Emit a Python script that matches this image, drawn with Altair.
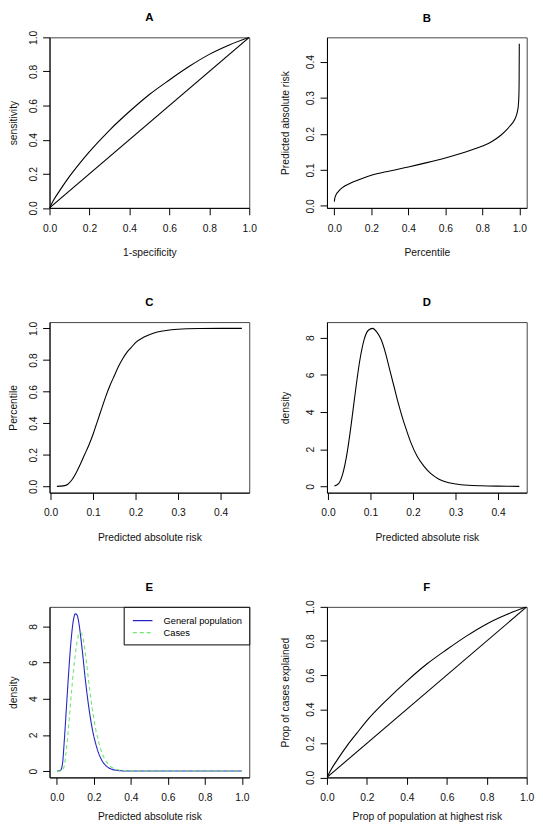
import altair as alt
import pandas as pd

FONT = "Liberation Sans"
FS = 10.4

# ---------------- data ----------------
# A: ROC curve
roc_fpr = [0, 0.02, 0.05, 0.1, 0.15, 0.2, 0.3, 0.4, 0.5, 0.6, 0.7, 0.8, 0.9, 1.0]
roc_tpr = [0, 0.045, 0.10, 0.185, 0.26, 0.33, 0.455, 0.565, 0.665, 0.75, 0.83, 0.90, 0.955, 1.0]
diag_x = [0, 1]
diag_y = [0, 1]

# B: predicted absolute risk vs percentile
pct_b = [0, 0.002, 0.005, 0.01, 0.02, 0.035, 0.05, 0.075, 0.1, 0.15, 0.2, 0.3, 0.4, 0.5,
         0.6, 0.7, 0.8, 0.85, 0.9, 0.93, 0.95, 0.97, 0.98, 0.99, 0.995, 0.998, 0.999, 1.0]
risk_b = [0.012, 0.02, 0.026, 0.032, 0.039, 0.047, 0.053, 0.06, 0.066, 0.076, 0.085, 0.097,
          0.108, 0.12, 0.133, 0.148, 0.166, 0.178, 0.196, 0.21, 0.222, 0.235, 0.245, 0.262,
          0.28, 0.31, 0.34, 0.45]

# C: percentile vs predicted absolute risk
risk_c = [0.015, 0.03, 0.04, 0.05, 0.06, 0.07, 0.08, 0.09, 0.1, 0.11, 0.12, 0.13, 0.14, 0.15,
          0.16, 0.17, 0.18, 0.19, 0.2, 0.22, 0.24, 0.26, 0.28, 0.3, 0.35, 0.4, 0.45]
pct_c = [0.0, 0.003, 0.012, 0.04, 0.085, 0.14, 0.2, 0.26, 0.33, 0.41, 0.49, 0.57, 0.64, 0.70,
         0.76, 0.81, 0.85, 0.88, 0.91, 0.945, 0.968, 0.982, 0.99, 0.995, 0.999, 1.0, 1.0]

# D: density of predicted absolute risk
risk_d = [0.015, 0.025, 0.035, 0.045, 0.055, 0.065, 0.075, 0.085, 0.095, 0.105, 0.115, 0.125,
          0.135, 0.145, 0.155, 0.165, 0.175, 0.185, 0.195, 0.21, 0.225, 0.24, 0.26, 0.28, 0.3,
          0.33, 0.36, 0.4, 0.45]
dens_d = [0.02, 0.15, 0.7, 1.8, 3.4, 5.2, 6.8, 7.9, 8.4, 8.5, 8.3, 7.9, 7.2, 6.3, 5.4, 4.5,
          3.7, 3.0, 2.35, 1.6, 1.1, 0.72, 0.4, 0.22, 0.13, 0.06, 0.03, 0.01, 0.0]

# E: densities, general population vs cases
risk_e = [0.0, 0.02, 0.03, 0.04, 0.05, 0.06, 0.07, 0.08, 0.09, 0.1, 0.11, 0.12, 0.13, 0.14,
          0.15, 0.16, 0.17, 0.18, 0.19, 0.2, 0.21, 0.22, 0.24, 0.26, 0.28, 0.3, 0.33, 0.36,
          0.4, 0.45, 0.5, 0.6, 0.7, 0.8, 0.9, 1.0]
dens_gen = [0.0, 0.05, 0.4, 1.7, 3.3, 4.9, 6.4, 7.6, 8.4, 8.7, 8.6, 8.1, 7.3, 6.4, 5.4, 4.5,
            3.7, 3.0, 2.4, 1.9, 1.5, 1.15, 0.65, 0.35, 0.18, 0.09, 0.03, 0.01, 0.0, 0.0,
            0.0, 0.0, 0.0, 0.0, 0.0, 0.0]
dens_cases = [0.0, 0.0, 0.05, 0.3, 1.1, 2.1, 3.3, 4.5, 5.6, 6.5, 7.2, 7.6, 7.65, 7.4, 6.8,
              6.0, 5.1, 4.3, 3.5, 2.9, 2.3, 1.85, 1.1, 0.65, 0.35, 0.18, 0.07, 0.03, 0.01,
              0.0, 0.0, 0.0, 0.0, 0.0, 0.0, 0.0]
series_e = ["General population", "Cases"]
colors_e = ["#2626c4", "#6fe86f"]

# F: proportion of cases explained
prop_pop = [0, 0.02, 0.05, 0.1, 0.15, 0.2, 0.3, 0.4, 0.5, 0.6, 0.7, 0.8, 0.9, 1.0]
prop_cases = [0, 0.045, 0.10, 0.185, 0.26, 0.333, 0.455, 0.565, 0.665, 0.75, 0.83, 0.90, 0.955, 1.0]

W, H = 202, 172.5


def xaxis(title, values, fmt, ty):
    return alt.Axis(title=title, values=values, format=fmt, grid=False, domain=True,
                    domainColor="black", domainWidth=1, ticks=True, tickSize=7,
                    tickColor="black", tickWidth=1, labelPadding=8.6, labelFont=FONT,
                    labelFontSize=FS, labelColor="#111", labelFlush=False,
                    labelOverlap=False, titleFont=FONT, titleFontSize=FS,
                    titleFontWeight="normal", titleColor="#111", titleY=ty,
                    titleBaseline="middle")


def yaxis(title, values, fmt, tx):
    return alt.Axis(title=title, values=values, format=fmt, grid=False, domain=True,
                    domainColor="black", domainWidth=1, ticks=True, tickSize=7,
                    tickColor="black", tickWidth=1, labelPadding=6.6, labelFont=FONT,
                    labelFontSize=FS, labelColor="#111", labelAngle=270,
                    labelAlign="center", labelBaseline="alphabetic", labelFlush=False,
                    labelOverlap=False, titleFont=FONT, titleFontSize=FS,
                    titleFontWeight="normal", titleColor="#111", titleAngle=270,
                    titleAlign="center", titleBaseline="middle", titleX=tx)


def ttl(t, off):
    return alt.TitleParams(text=t, font=FONT, fontSize=11.5, fontWeight="bold",
                           color="black", anchor="middle", frame="group", offset=off)


def panel(df, title, off, xt, yt, xdom, ydom, xv, yv, xf, yf, tx, ty, extra=None):
    enc = dict(
        x=alt.X("x:Q", scale=alt.Scale(domain=xdom, nice=False, zero=False),
                axis=xaxis(xt, xv, xf, ty)),
        y=alt.Y("y:Q", scale=alt.Scale(domain=ydom, nice=False, zero=False),
                axis=yaxis(yt, yv, yf, tx)),
        order="x:Q",
    )
    if extra:
        enc.update(extra)
    else:
        enc["detail"] = "s:N"
        enc["color"] = alt.value("black")
    return (alt.Chart(df).mark_line(strokeWidth=1.1, interpolate="monotone", clip=True)
            .encode(**enc).properties(width=W, height=H, title=ttl(title, off)))


tick01 = [0, 0.2, 0.4, 0.6, 0.8, 1.0]

dfA = pd.concat([pd.DataFrame({"x": roc_fpr, "y": roc_tpr, "s": "roc"}),
                 pd.DataFrame({"x": diag_x, "y": diag_y, "s": "diag"})])
A = panel(dfA, "A", 6.3, "1-specificity", "sensitivity", [0, 1], [0, 1], tick01, tick01,
          ".1f", ".1f", -36.5, 45)

dfB = pd.DataFrame({"x": pct_b, "y": risk_b, "s": "b"})
B = panel(dfB, "B", 13.5, "Percentile", "Predicted absolute risk", [-0.04, 1.04],
          [-0.0055, 0.4675], tick01, [0, 0.1, 0.2, 0.3, 0.4], ".1f", ".1f", -42, 45)

dfC = pd.DataFrame({"x": risk_c, "y": pct_c, "s": "c"})
C = panel(dfC, "C", 13.1, "Predicted absolute risk", "Percentile", [-0.0024, 0.4674],
          [-0.04, 1.04], [0, 0.1, 0.2, 0.3, 0.4], tick01, ".1f", ".1f", -36.5, 45)

dfD = pd.DataFrame({"x": risk_d, "y": dens_d, "s": "d"})
D = panel(dfD, "D", 13.5, "Predicted absolute risk", "density", [-0.0024, 0.4674],
          [-0.34, 8.84], [0, 0.1, 0.2, 0.3, 0.4], [0, 2, 4, 6, 8], ".1f", "d", -42, 45)

dfE = pd.concat([pd.DataFrame({"x": risk_e, "y": dens_gen, "s": series_e[0]}),
                 pd.DataFrame({"x": risk_e, "y": dens_cases, "s": series_e[1]})])
leg = alt.Legend(orient="top-right", offset=0, title=None, strokeColor="black",
                 fillColor="white", padding=7, symbolType="M-1.65,0H1.65", symbolSize=144,
                 symbolOffset=5.2, symbolStrokeWidth=1.3, labelFont=FONT,
                 labelFontSize=9.4, labelColor="black", labelOffset=14.1, rowPadding=0,
                 cornerRadius=0, labelLimit=300)
E = panel(dfE, "E", 13.5, "Predicted absolute risk", "density", [-0.04, 1.04],
          [-0.35, 9.08], tick01, [0, 2, 4, 6, 8], ".1f", "d", -36.5, 40,
          extra=dict(
              color=alt.Color("s:N", scale=alt.Scale(domain=series_e, range=colors_e),
                              legend=leg),
              strokeDash=alt.StrokeDash("s:N", scale=alt.Scale(domain=series_e,
                                                               range=[[1, 0], [4, 3]]),
                                        legend=leg),
          ))

dfF = pd.concat([pd.DataFrame({"x": prop_pop, "y": prop_cases, "s": "curve"}),
                 pd.DataFrame({"x": diag_x, "y": diag_y, "s": "diag"})])
F = panel(dfF, "F", 6.3, "Prop of population at highest risk", "Prop of cases explained",
          [0, 1], [0, 1], tick01, tick01, ".1f", ".1f", -42, 40)

chart = (alt.concat(A, B, C, D, E, F, columns=2, bounds="flush",
                    spacing={"row": 115, "column": 78.6})
         .resolve_scale(color="independent", strokeDash="independent")
         .resolve_legend(color="independent", strokeDash="independent")
         .properties(padding={"left": 0, "top": -1, "right": 0, "bottom": 0},
                     background="white")
         .configure_view(stroke="#444", strokeWidth=1))

chart.save("out.html", embed_options={"renderer": "svg", "actions": False})
